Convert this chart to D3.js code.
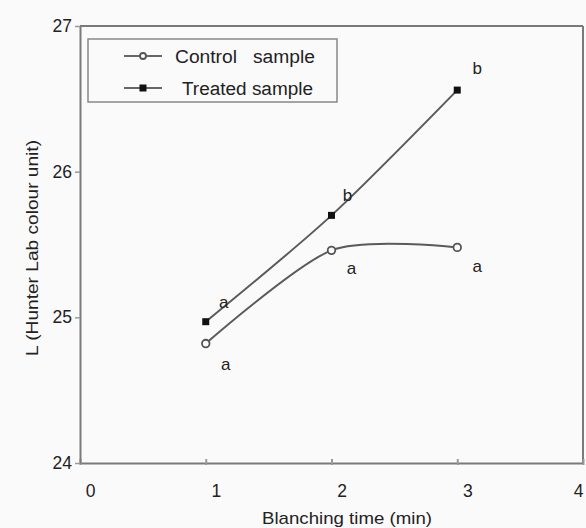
<!DOCTYPE html>
<html><head><meta charset="utf-8">
<script src="https://cdn.jsdelivr.net/npm/d3@7"></script>
<style>body{margin:0;background:#fafafa;}svg{display:block;font-family:"Liberation Sans",Arial,sans-serif;}</style>
</head><body><svg id="c" width="586" height="528"></svg>
<script>
const times = [1, 2, 3];
const controlValues = [24.82, 25.46, 25.48];
const treatedValues = [24.97, 25.70, 26.56];
const controlLetters = ["a", "a", "a"];
const treatedLetters = ["a", "b", "b"];
const xTicks = [0, 1, 2, 3, 4];
const yTicks = [24, 25, 26, 27];
const seriesNames = ["Control   sample", "Treated sample"];

const svg = d3.select("#c");
svg.append("rect").attr("width",586).attr("height",528).attr("fill","#fafafa");
const L=80, R=583, T=26, B=463;
const x = d3.scaleLinear().domain([0,4]).range([L,R]);
const y = d3.scaleLinear().domain([24,27]).range([B,T]);
const axisColor="#7a7a7a";

// frame
svg.append("line").attr("x1",L).attr("x2",R).attr("y1",T).attr("y2",T).attr("stroke",axisColor).attr("stroke-width",2);
svg.append("line").attr("x1",R).attr("x2",R).attr("y1",T).attr("y2",B).attr("stroke",axisColor).attr("stroke-width",2);

// x axis
const gx = svg.append("g").attr("transform",`translate(0,${B})`)
  .call(d3.axisBottom(x).tickValues(xTicks).tickSize(4).tickSizeOuter(0).tickFormat(d3.format("d")));
gx.select(".domain").attr("stroke",axisColor).attr("stroke-width",2);
gx.selectAll(".tick line").attr("stroke","#999").attr("stroke-width",2).attr("y1",-4).attr("y2",2);
gx.selectAll(".tick text").attr("font-size",17.5).attr("fill","#222")
  .attr("dx",d=>d===4?-5:10).attr("dy","1.55em");

// y axis
const gy = svg.append("g").attr("transform",`translate(${L},0)`)
  .call(d3.axisLeft(y).tickValues(yTicks).tickSize(5).tickSizeOuter(0).tickFormat(d3.format("d")));
gy.select(".domain").attr("stroke",axisColor).attr("stroke-width",2);
gy.selectAll(".tick line").attr("stroke","#999").attr("stroke-width",1.5);
gy.selectAll(".tick text").attr("font-size",17.5).attr("fill","#222").attr("dx",0);

// titles
svg.append("text").attr("x",347).attr("y",524).attr("text-anchor","middle").attr("font-size",17)
  .attr("textLength",170).attr("lengthAdjust","spacingAndGlyphs").attr("fill","#222").text("Blanching time (min)");
svg.append("text").attr("transform","translate(38,248) rotate(-90)").attr("text-anchor","middle").attr("font-size",17)
  .attr("textLength",216).attr("lengthAdjust","spacingAndGlyphs").attr("fill","#222").text("L (Hunter Lab colour unit)");

const line = d3.line().x(d=>x(d[0])).y(d=>y(d[1])).curve(d3.curveCardinal.tension(0.2));
const ctrl = times.map((t,i)=>[t,controlValues[i]]);
const trt = times.map((t,i)=>[t,treatedValues[i]]);
svg.append("path").attr("d",line(ctrl)).attr("fill","none").attr("stroke","#5a5a5a").attr("stroke-width",2);
svg.append("path").attr("d",line(trt)).attr("fill","none").attr("stroke","#5a5a5a").attr("stroke-width",2);

// markers
svg.selectAll(".cm").data(ctrl).enter().append("circle")
  .attr("cx",d=>x(d[0])).attr("cy",d=>y(d[1])).attr("r",3.8)
  .attr("fill","#fafafa").attr("stroke","#555").attr("stroke-width",1.8);
svg.selectAll(".tm").data(trt).enter().append("rect")
  .attr("x",d=>x(d[0])-3.5).attr("y",d=>y(d[1])-3.5).attr("width",7).attr("height",7).attr("fill","#111");

// letters
const ctrlOff=[[20,26],[20,24],[20,25]];
const trtOff=[[18,-14],[16,-14],[20,-16]];
svg.selectAll(".cl").data(ctrl).enter().append("text")
  .attr("x",(d,i)=>x(d[0])+ctrlOff[i][0]).attr("y",(d,i)=>y(d[1])+ctrlOff[i][1])
  .attr("text-anchor","middle").attr("font-size",17).attr("fill","#222").text((d,i)=>controlLetters[i]);
svg.selectAll(".tl").data(trt).enter().append("text")
  .attr("x",(d,i)=>x(d[0])+trtOff[i][0]).attr("y",(d,i)=>y(d[1])+trtOff[i][1])
  .attr("text-anchor","middle").attr("font-size",17).attr("fill","#222").text((d,i)=>treatedLetters[i]);

// legend
svg.append("rect").attr("x",88).attr("y",39).attr("width",249).attr("height",63).attr("fill","#fafafa").attr("stroke","#888").attr("stroke-width",1.5);
const legX=[175,182], legW=[140,131];
[0,1].forEach(i=>{
  const yy = 56 + i*32;
  svg.append("line").attr("x1",124).attr("x2",162).attr("y1",yy).attr("y2",yy).attr("stroke","#666").attr("stroke-width",2);
  if(i===0) svg.append("circle").attr("cx",143).attr("cy",yy).attr("r",3).attr("fill","#fafafa").attr("stroke","#555").attr("stroke-width",1.8);
  else svg.append("rect").attr("x",139.5).attr("y",yy-3.5).attr("width",7).attr("height",7).attr("fill","#111");
  svg.append("text").attr("x",legX[i]).attr("y",yy+6.5).attr("font-size",18)
    .attr("textLength",legW[i]).attr("lengthAdjust","spacingAndGlyphs")
    .attr("fill","#222").attr("xml:space","preserve").style("white-space","pre").text(seriesNames[i]);
});
</script></body></html>
